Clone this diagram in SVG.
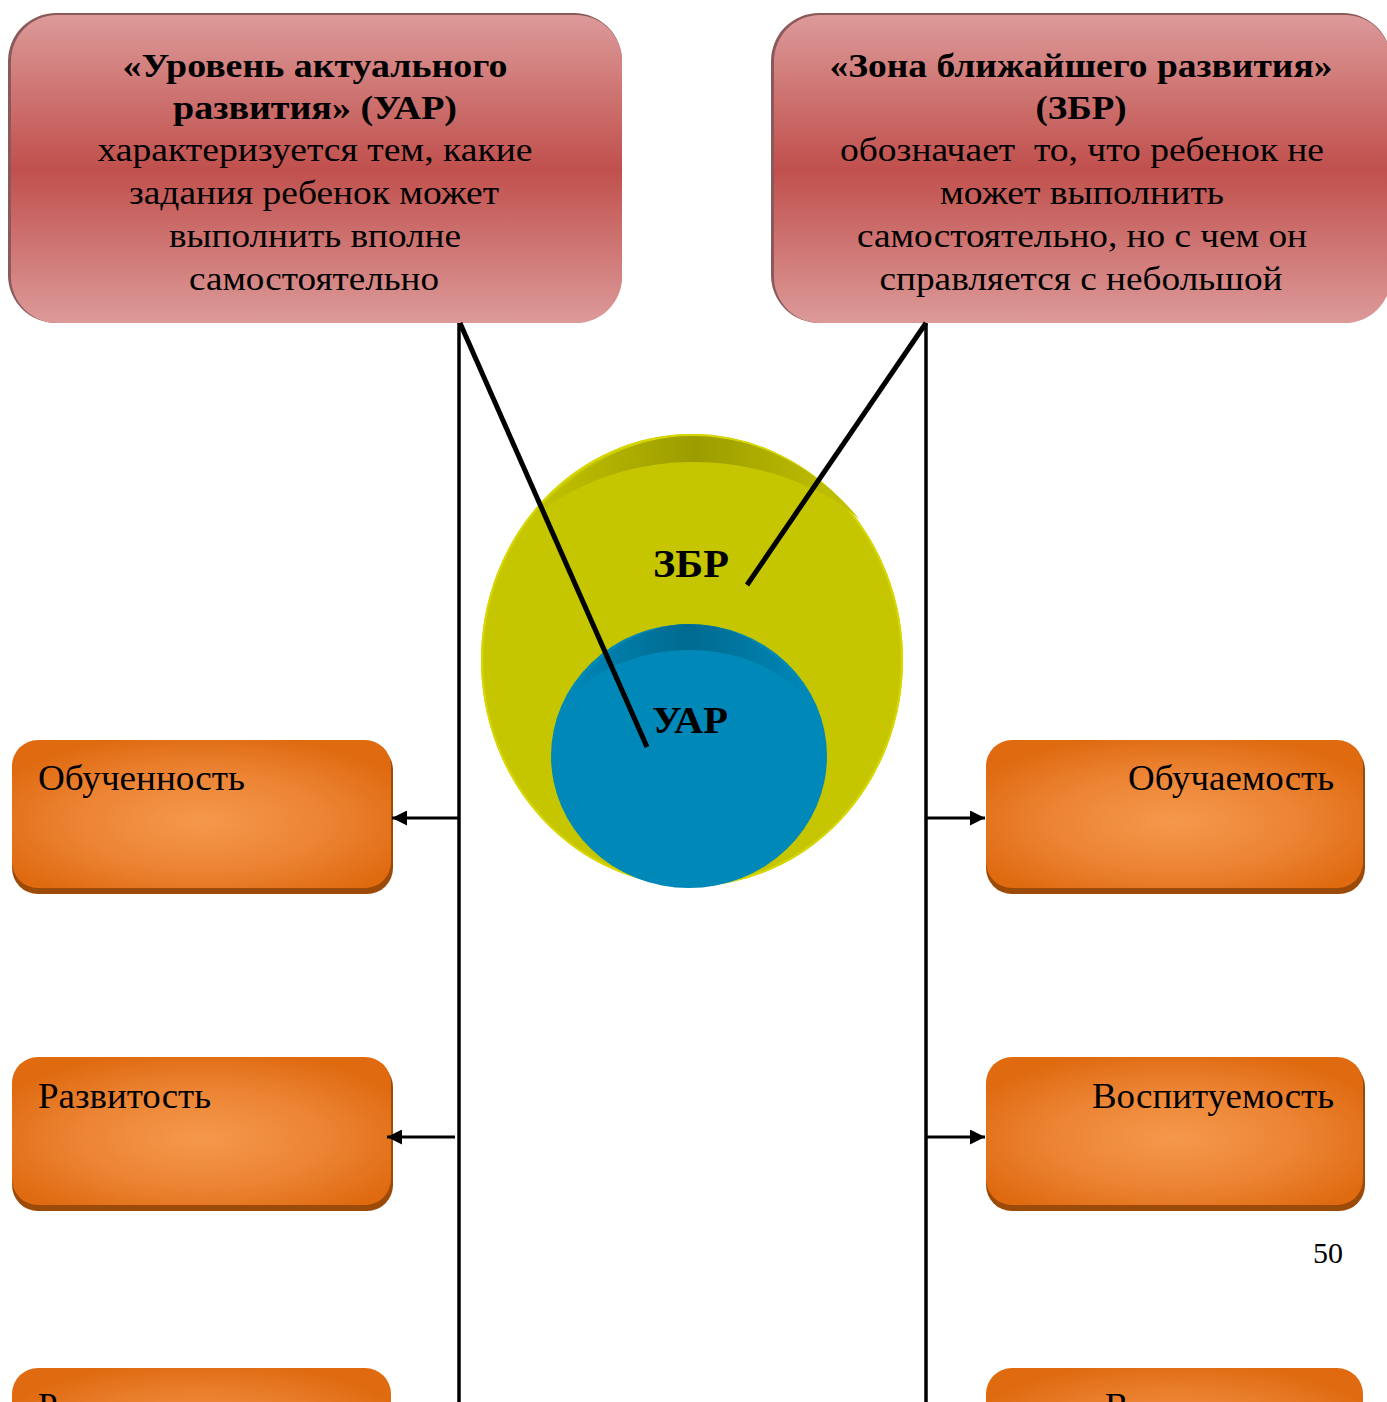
<svg xmlns="http://www.w3.org/2000/svg" width="1387" height="1402" viewBox="0 0 1387 1402">
<style>
.t{font-family:"Liberation Serif","Times New Roman",serif;fill:#000}
.h{font-size:33px;font-weight:bold;text-anchor:middle}
.b{font-size:33px;text-anchor:middle}
.o{font-size:35px}
.c{stroke:#000;fill:none}
</style>
<defs>
<linearGradient id="red" x1="0" y1="0" x2="0" y2="1">
<stop offset="0" stop-color="#dc9a99"/>
<stop offset="0.5" stop-color="#c0504d"/>
<stop offset="1" stop-color="#dc9a99"/>
</linearGradient>
<radialGradient id="org" cx="0.5" cy="0.55" r="0.6">
<stop offset="0" stop-color="#f5984c"/>
<stop offset="0.55" stop-color="#ec8434"/>
<stop offset="1" stop-color="#df6a10"/>
</radialGradient>
<linearGradient id="ybev" x1="0" y1="0" x2="1" y2="0">
<stop offset="0" stop-color="#c4c400"/>
<stop offset="0.5" stop-color="#9c9c00"/>
<stop offset="1" stop-color="#c4c400"/>
</linearGradient>
<linearGradient id="bbev" x1="0" y1="0" x2="1" y2="0">
<stop offset="0" stop-color="#0088b8"/>
<stop offset="0.5" stop-color="#006a90"/>
<stop offset="1" stop-color="#0088b8"/>
</linearGradient>
<marker id="ah" viewBox="0 0 10 10" refX="10" refY="5" markerWidth="5" markerHeight="5" orient="auto" markerUnits="strokeWidth">
<path d="M0,0 L10,5 L0,10 z" fill="#000"/>
</marker>
</defs>
<rect width="1387" height="1402" fill="#fff"/>

<g id="node-uar-box">
<rect x="8" y="13" width="614" height="310" rx="48" fill="#8a5a5a"/>
<rect x="11" y="15" width="611" height="308" rx="46" fill="url(#red)"/>
<text class="t h" x="315" y="77" textLength="385" lengthAdjust="spacingAndGlyphs">«Уровень актуального</text>
<text class="t h" x="315" y="119" textLength="284" lengthAdjust="spacingAndGlyphs">развития» (УАР)</text>
<text class="t b" x="315" y="161" textLength="435" lengthAdjust="spacingAndGlyphs">характеризуется тем, какие</text>
<text class="t b" x="314" y="204" textLength="370" lengthAdjust="spacingAndGlyphs">задания ребенок может</text>
<text class="t b" x="315" y="247" textLength="292" lengthAdjust="spacingAndGlyphs">выполнить вполне</text>
<text class="t b" x="314" y="290" textLength="250" lengthAdjust="spacingAndGlyphs">самостоятельно</text>
</g>

<g id="node-zbr-box">
<rect x="771" y="13" width="620" height="310" rx="48" fill="#8a5a5a"/>
<rect x="774" y="15" width="617" height="308" rx="46" fill="url(#red)"/>
<text class="t h" x="1081" y="77" textLength="503" lengthAdjust="spacingAndGlyphs">«Зона ближайшего развития»</text>
<text class="t h" x="1081" y="119" textLength="91" lengthAdjust="spacingAndGlyphs">(ЗБР)</text>
<text class="t b" x="1082" y="161" textLength="484" lengthAdjust="spacingAndGlyphs" xml:space="preserve">обозначает  то, что ребенок не</text>
<text class="t b" x="1082" y="204" textLength="284" lengthAdjust="spacingAndGlyphs">может выполнить</text>
<text class="t b" x="1082" y="247" textLength="450" lengthAdjust="spacingAndGlyphs">самостоятельно, но с чем он</text>
<text class="t b" x="1081" y="290" textLength="403" lengthAdjust="spacingAndGlyphs">справляется с небольшой</text>
</g>

<g id="node-zbr-circle">
<ellipse cx="692" cy="660" rx="211" ry="226" fill="#c4c400"/>
<ellipse cx="692" cy="660" rx="210" ry="225" fill="#c6c600" stroke="#d8d800" stroke-width="2"/>
<path d="M530,520 C570,470 630,436 692,436 C760,436 820,470 860,520 C820,485 760,462 692,462 C630,462 570,485 530,520 z" fill="url(#ybev)"/>
<text class="t" x="691" y="577" font-size="40" font-weight="bold" text-anchor="middle" textLength="76" lengthAdjust="spacingAndGlyphs">ЗБР</text>
</g>

<g id="node-uar-circle">
<ellipse cx="689" cy="756" rx="138" ry="132" fill="#0088b8"/>
<path d="M565,705 C590,655 640,624 689,624 C740,624 790,655 812,705 C785,670 740,650 689,650 C640,650 590,670 565,705 z" fill="url(#bbev)"/>
<text class="t" x="690" y="733" font-size="37" font-weight="bold" text-anchor="middle" textLength="76" lengthAdjust="spacingAndGlyphs">УАР</text>
</g>

<g id="node-obuchennost">
<rect x="12" y="744" width="381" height="150" rx="26" fill="#9c4a08"/>
<rect x="12" y="740" width="379" height="148" rx="26" fill="url(#org)"/>
<text class="t o" x="38" y="790" textLength="207" lengthAdjust="spacingAndGlyphs">Обученность</text>
</g>
<g id="node-razvitost">
<rect x="12" y="1061" width="381" height="150" rx="26" fill="#9c4a08"/>
<rect x="12" y="1057" width="379" height="148" rx="26" fill="url(#org)"/>
<text class="t o" x="38" y="1108" textLength="173" lengthAdjust="spacingAndGlyphs">Развитость</text>
</g>
<g id="node-left-3">
<rect x="12" y="1368" width="379" height="148" rx="26" fill="url(#org)"/>
<text class="t o" x="38" y="1418">Р</text>
</g>
<g id="node-obuchaemost">
<rect x="986" y="744" width="379" height="150" rx="26" fill="#9c4a08"/>
<rect x="986" y="740" width="377" height="148" rx="26" fill="url(#org)"/>
<text class="t o" x="1128" y="790" textLength="206" lengthAdjust="spacingAndGlyphs">Обучаемость</text>
</g>
<g id="node-vospituemost">
<rect x="986" y="1061" width="379" height="150" rx="26" fill="#9c4a08"/>
<rect x="986" y="1057" width="377" height="148" rx="26" fill="url(#org)"/>
<text class="t o" x="1092" y="1108" textLength="242" lengthAdjust="spacingAndGlyphs">Воспитуемость</text>
</g>
<g id="node-right-3">
<rect x="986" y="1368" width="377" height="148" rx="26" fill="url(#org)"/>
<text class="t o" x="1105" y="1418">В</text>
</g>

<g id="connectors">
<line class="c" x1="459" y1="323" x2="459" y2="1402" stroke-width="3.5"/>
<line class="c" x1="926" y1="323" x2="926" y2="1402" stroke-width="3.5"/>
<line class="c" x1="460" y1="323" x2="647" y2="747" stroke-width="5"/>
<line class="c" x1="926" y1="323" x2="747" y2="585" stroke-width="5"/>
<line class="c" x1="459" y1="818" x2="392" y2="818" stroke-width="3" marker-end="url(#ah)"/>
<line class="c" x1="455" y1="1137" x2="387" y2="1137" stroke-width="3" marker-end="url(#ah)"/>
<line class="c" x1="926" y1="818" x2="985" y2="818" stroke-width="3" marker-end="url(#ah)"/>
<line class="c" x1="926" y1="1137" x2="985" y2="1137" stroke-width="3" marker-end="url(#ah)"/>
</g>

<text class="t" x="1328" y="1263" font-size="30" text-anchor="middle">50</text>
</svg>
